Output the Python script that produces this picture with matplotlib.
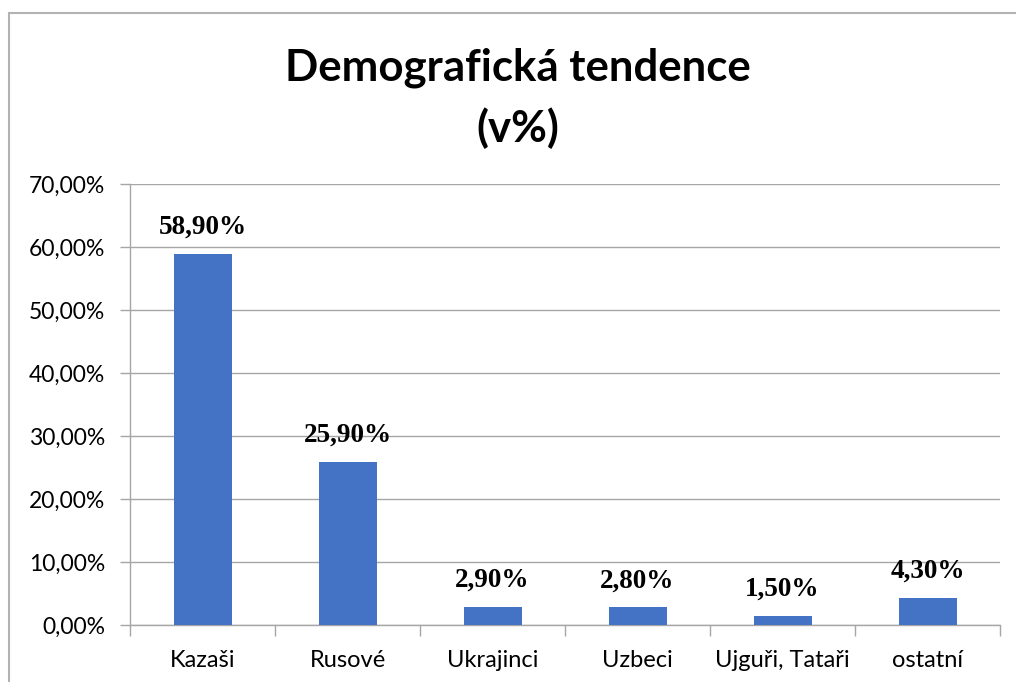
import matplotlib
matplotlib.use("Agg")
import matplotlib.pyplot as plt
from matplotlib.patches import Rectangle
from matplotlib.ticker import MultipleLocator, FuncFormatter

categories = ["Kazaši", "Rusové", "Ukrajinci", "Uzbeci", "Ujguři, Tataři", "ostatní"]
values = [58.9, 25.9, 2.9, 2.8, 1.5, 4.3]
labels = ["58,90%", "25,90%", "2,90%", "2,80%", "1,50%", "4,30%"]

W, H = 1016, 682
fig = plt.figure(figsize=(W / 100, H / 100), dpi=100)

# outer chart border (extends past the right and bottom edges)
fig.patches.append(Rectangle((9 / W, -0.05), 1.1, 1 - 13 / H + 0.05,
                             transform=fig.transFigure, fill=False,
                             edgecolor="#b3b3b3", linewidth=1.5))

ax = fig.add_axes([130 / W, 57 / H, 870 / W, 441 / H])
x = list(range(len(categories)))
ax.bar(x, values, width=0.4, color="#4472c4", zorder=3)
ax.set_xlim(-0.5, len(categories) - 0.5)
ax.set_ylim(0, 70)
ax.yaxis.set_major_locator(MultipleLocator(10))
ax.yaxis.set_major_formatter(FuncFormatter(lambda v, p: f"{v:.2f}".replace(".", ",") + "%"))
ax.grid(axis="y", color="#a6a6a6", linewidth=1.0, zorder=0)

for s in ["top", "right"]:
    ax.spines[s].set_visible(False)
for s in ["left", "bottom"]:
    ax.spines[s].set_color("#a6a6a6")
    ax.spines[s].set_linewidth(1.0)

ax.set_xticks(x)
ax.set_xticklabels(categories, fontsize=17, fontfamily="Lato")
ax.tick_params(axis="x", length=0, pad=18)
ax.set_xticks([i - 0.5 for i in range(len(categories) + 1)], minor=True)
ax.tick_params(axis="x", which="minor", length=8, color="#a6a6a6", width=1.0)
ax.tick_params(axis="y", length=7, color="#a6a6a6", width=1.0, labelsize=16.5, pad=11)
for t in ax.get_yticklabels():
    t.set_fontfamily("Lato")

for xi, v, lab in zip(x, values, labels):
    ax.annotate(lab, (xi, v), xytext=(0, 10), textcoords="offset points",
                ha="center", va="bottom", fontsize=19.5, fontweight="bold",
                fontfamily="Liberation Serif", zorder=4)

fig.text(518 / W, 1 - 68 / H, "Demografická tendence", ha="center", va="center",
         fontsize=31.5, fontweight="bold", fontfamily="Lato")
fig.text(518 / W, 1 - 128 / H, "(v%)", ha="center", va="center",
         fontsize=31.5, fontweight="bold", fontfamily="Lato")

fig.savefig("out.png", dpi=100)
